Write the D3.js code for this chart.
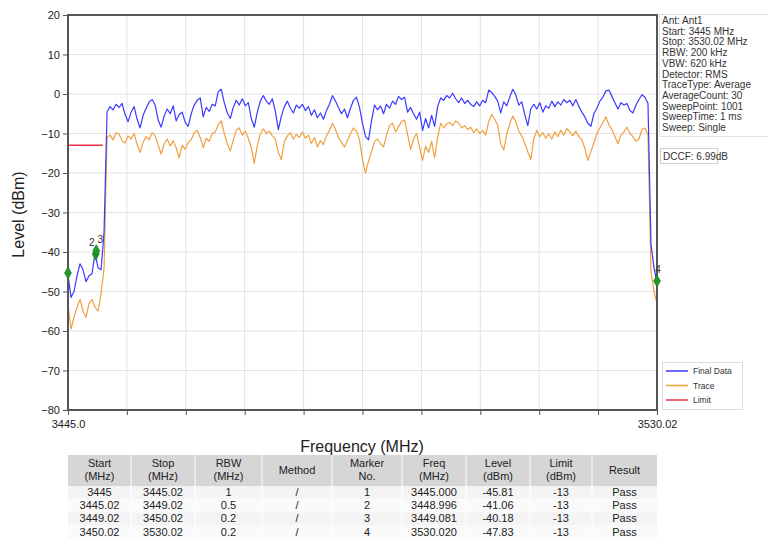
<!DOCTYPE html>
<html><head><meta charset="utf-8">
<script src="https://cdn.jsdelivr.net/npm/d3@7"></script>
<style>
html,body{margin:0;padding:0;background:#fff;}
svg{display:block;font-family:"Liberation Sans",Arial,sans-serif;}
</style></head>
<body><svg id="c" width="768" height="543"></svg>
<script>
// ---------------- data ----------------
const freqStart = 3445, freqStop = 3530.02;
const yTicks = [20, 10, 0, -10, -20, -30, -40, -50, -60, -70, -80];
const xTickLabels = ["3445.0", "", "", "", "", "", "", "", "", "", "3530.02"];

// Final Data (blue), evenly spaced sweep samples from 3445 to 3530.02 MHz
const finalData = [
 -45.8,-51.5,-50,-46,-43,-44.5,-47.5,-46,-45.5,-40.2,-44,-44.5,-35,
 -4.5,-3.2,-4.0,-2.6,-3.4,-2.4,-5.2,-7.0,-4.6,-3.2,-6.4,-8.6,-5.4,-3.6,-2.0,-1.4,
 -2.8,-6.6,-8.4,-5.6,-3.8,-5.0,-3.0,-6.8,-5.2,-4.6,-7.2,-8.2,-5.0,-2.8,-1.6,-1.0,
 -5.8,-3.4,-4.4,-2.6,-3.0,0.6,1.2,-2.2,-4.8,-6.2,-3.4,-1.6,-2.8,-1.2,-3.0,-2.2,
 -6.2,-8.4,-4.6,-1.8,-0.4,-1.8,-2.6,-1.2,-4.4,-9.0,-5.6,-3.2,-1.8,-3.6,-4.8,-2.8,
 -3.6,-2.6,-4.2,-3.2,-5.4,-4.0,-6.0,-4.8,-6.4,-4.2,-2.6,-0.4,-1.8,-3.4,-5.0,-3.8,
 -6.0,-3.6,-1.6,-0.8,-3.4,-7.4,-10.8,-11.6,-6.8,-2.8,-4.0,-3.0,-5.0,-2.6,-3.6,-1.8,
 -2.6,-0.6,-1.4,-0.8,-4.6,-3.4,-5.0,-6.4,-4.6,-9.2,-6.2,-8.6,-5.4,-8.2,-3.2,-1.0,
 -1.6,-0.4,-1.0,0.2,-1.2,-2.2,-1.0,-2.4,-1.6,-2.6,-3.2,-2.0,-3.0,-1.6,-2.2,1.0,
 0.4,-0.6,-1.8,-4.8,-2.0,-3.0,-0.8,1.2,-0.2,-2.8,-2.0,-5.2,-8.0,-3.8,-2.6,-3.8,
 -2.2,-4.6,-3.0,-3.6,-1.8,-3.2,-2.0,-2.8,-1.4,-2.2,-1.6,-3.0,-1.4,-3.2,-4.6,-5.8,
 -7.4,-8.2,-5.0,-3.6,-1.8,-0.8,0.8,1.0,-0.6,-2.2,-3.8,-2.2,-2.8,-2.4,-4.2,-4.8,
 -2.8,-1.4,-0.2,-0.8,-2.4,
 -38,-44,-47.83
];

// Trace (orange)
const traceData = [
 -53.5,-59.5,-56.5,-54,-52,-55,-56.5,-53,-52,-54,-55,-50.5,-44,
 -11.0,-10.4,-11.6,-9.8,-10.2,-11.8,-12.4,-10.6,-11.4,-10.0,-12.8,-14.8,-12.2,-10.8,-11.6,-9.8,
 -10.6,-13.0,-15.2,-12.6,-11.4,-13.2,-11.8,-13.6,-16.2,-13.0,-14.0,-12.2,-11.6,-9.8,-9.2,-11.0,
 -13.6,-11.2,-12.0,-10.0,-9.6,-7.8,-6.8,-10.0,-12.6,-14.4,-11.6,-9.2,-8.6,-10.4,-9.4,-11.2,
 -13.6,-17.6,-13.0,-10.2,-8.8,-10.0,-9.4,-10.6,-11.4,-14.8,-16.6,-12.0,-10.6,-9.8,-11.4,-10.2,
 -11.0,-9.6,-11.2,-10.4,-12.6,-11.0,-13.4,-11.8,-12.8,-10.6,-9.2,-7.4,-9.0,-11.0,-12.2,-13.4,
 -11.8,-10.0,-8.6,-9.4,-11.6,-16.6,-20.0,-17.0,-14.6,-12.0,-11.4,-12.6,-13.4,-10.4,-8.0,-7.4,
 -9.6,-8.2,-7.0,-6.6,-10.2,-14.0,-11.4,-10.0,-13.6,-16.8,-13.2,-14.8,-12.0,-16.2,-11.0,-7.4,
 -8.6,-7.6,-7.2,-8.0,-6.8,-7.4,-8.6,-8.0,-9.0,-8.4,-9.8,-8.8,-10.0,-9.2,-10.4,-7.0,
 -5.2,-6.4,-8.0,-12.6,-14.2,-10.2,-7.6,-5.6,-7.0,-9.4,-10.6,-12.4,-14.6,-16.6,-11.4,-9.2,
 -10.8,-9.8,-11.2,-10.0,-11.4,-9.6,-10.8,-9.2,-10.4,-8.8,-9.6,-10.6,-9.4,-10.8,-11.6,-13.8,
 -16.8,-14.6,-12.4,-10.0,-8.6,-7.2,-5.8,-7.8,-9.0,-10.8,-12.6,-10.4,-9.6,-8.4,-10.0,-10.8,
 -12.0,-11.4,-9.0,-8.6,-10.4,
 -45,-50,-53
];

const limitFreq = [3445, 3450.02];
const limitLevel = [-13, -13];

const markerNo = [1, 2, 3, 4];
const markerFreq = [3445.000, 3448.996, 3449.081, 3530.020];
const markerLevel = [-45.81, -41.06, -40.18, -47.83];
const markerLabelShown = [false, true, true, true];

const infoLines = ["Ant: Ant1", "Start: 3445 MHz", "Stop: 3530.02 MHz", "RBW: 200 kHz", "VBW: 620 kHz",
  "Detector: RMS", "TraceType: Average", "AverageCount: 30", "SweepPoint: 1001", "SweepTime: 1 ms", "Sweep: Single"];
const dccfText = "DCCF: 6.99dB";
const legendNames = ["Final Data", "Trace", "Limit"];
const colors = ["#3a3aff", "#f0a040", "#e8304a"];

const tableHeader = [["Start","(MHz)"],["Stop","(MHz)"],["RBW","(MHz)"],["Method"],["Marker","No."],["Freq","(MHz)"],["Level","(dBm)"],["Limit","(dBm)"],["Result"]];
const colStart = ["3445", "3445.02", "3449.02", "3450.02"];
const colStop = ["3445.02", "3449.02", "3450.02", "3530.02"];
const colRBW = ["1", "0.5", "0.2", "0.2"];
const colMethod = ["/", "/", "/", "/"];
const colMarker = ["1", "2", "3", "4"];
const colFreq = ["3445.000", "3448.996", "3449.081", "3530.020"];
const colLevel = ["-45.81", "-41.06", "-40.18", "-47.83"];
const colLimit = ["-13", "-13", "-13", "-13"];
const colResult = ["Pass", "Pass", "Pass", "Pass"];

// ---------------- drawing ----------------
const svg = d3.select("#c");
const L = 68, R = 657, T = 15, B = 410;
const x = d3.scaleLinear().domain([freqStart, freqStop]).range([L, R]);
const y = d3.scaleLinear().domain([-80, 20]).range([B, T]);
const fmtY = d => d < 0 ? "\u2212" + Math.abs(d) : String(d);
const xTickVals = xTickLabels.map((_, i) => freqStart + i * (freqStop - freqStart) / (xTickLabels.length - 1));

// grid
const g = svg.append("g");
g.selectAll("line.gy").data(yTicks).join("line")
  .attr("x1", L).attr("x2", R).attr("y1", d => y(d)).attr("y2", d => y(d))
  .attr("stroke", "#e2e2e2").attr("stroke-width", 1);
g.selectAll("line.gx").data(xTickVals).join("line")
  .attr("y1", T).attr("y2", B).attr("x1", d => x(d)).attr("x2", d => x(d))
  .attr("stroke", "#e2e2e2").attr("stroke-width", 1);

// clip
svg.append("clipPath").attr("id", "clip").append("rect")
  .attr("x", L).attr("y", T).attr("width", R - L).attr("height", B - T);

const mkLine = arr => {
  const step = (freqStop - freqStart) / (arr.length - 1);
  return d3.line().x((d, i) => x(freqStart + i * step)).y(d => y(d))(arr);
};
const plot = svg.append("g").attr("clip-path", "url(#clip)");
plot.append("path").attr("d", mkLine(traceData)).attr("fill", "none")
  .attr("stroke", colors[1]).attr("stroke-width", 1.2).attr("stroke-linejoin", "round");
plot.append("path").attr("d", mkLine(finalData)).attr("fill", "none")
  .attr("stroke", colors[0]).attr("stroke-width", 1.2).attr("stroke-linejoin", "round");
plot.append("path").attr("d", d3.line().x((d, i) => x(limitFreq[i])).y(d => y(d))(limitLevel))
  .attr("fill", "none").attr("stroke", colors[2]).attr("stroke-width", 1.5);

// frame
svg.append("rect").attr("x", L).attr("y", T).attr("width", R - L).attr("height", B - T)
  .attr("fill", "none").attr("stroke", "#555").attr("stroke-width", 2);

// markers
const mk = svg.append("g");
const labelDx = [0, -4, 4, 1];
markerNo.forEach((n, i) => {
  mk.append("path").attr("d", d3.symbol(d3.symbolDiamond, 42)())
    .attr("transform", `translate(${x(markerFreq[i])},${y(markerLevel[i]) - 2})`)
    .attr("fill", "#1e9a2a").attr("stroke", "#167020").attr("stroke-width", 0.6);
  if (markerLabelShown[i]) {
    mk.append("text").attr("x", x(markerFreq[i]) + labelDx[i]).attr("y", y(markerLevel[i]) - 10)
      .attr("text-anchor", "middle").attr("font-size", 10).attr("fill", "#333").text(n);
  }
});

// axes
const ya = svg.append("g").attr("transform", `translate(${L},0)`)
  .call(d3.axisLeft(y).tickValues(yTicks).tickSize(5).tickFormat(fmtY));
ya.select(".domain").remove();
ya.selectAll("line").attr("stroke", "#555");
ya.selectAll("text").attr("font-size", 11).attr("fill", "#222").attr("font-family", "Liberation Sans, Arial, sans-serif");

const xa = svg.append("g").attr("transform", `translate(0,${B})`)
  .call(d3.axisBottom(x).tickValues(xTickVals).tickSize(5).tickFormat((d, i) => xTickLabels[i]));
xa.select(".domain").remove();
xa.selectAll("line").attr("stroke", "#555");
xa.selectAll("text").attr("font-size", 11).attr("fill", "#222").attr("dy", "0.9em").attr("font-family", "Liberation Sans, Arial, sans-serif");

svg.append("text").attr("transform", `translate(24,${(T + B) / 2 + 2}) rotate(-90)`)
  .attr("text-anchor", "middle").attr("font-size", 16).attr("fill", "#222").text("Level (dBm)");
svg.append("text").attr("x", 362).attr("y", 452).attr("text-anchor", "middle")
  .attr("font-size", 16).attr("fill", "#222").text("Frequency (MHz)");

// info panel
svg.append("rect").attr("x", 659.5).attr("y", 14.5).attr("width", 110).attr("height", 122)
  .attr("fill", "none").attr("stroke", "#e0e0e0");
svg.append("g").selectAll("text").data(infoLines).join("text")
  .attr("x", 662).attr("y", (d, i) => 24 + i * 10.7)
  .attr("font-size", 10).attr("fill", "#333").text(d => d);
svg.append("rect").attr("x", 660.5).attr("y", 148.5).attr("width", 57).attr("height", 15)
  .attr("fill", "none").attr("stroke", "#cfcfcf");
svg.append("text").attr("x", 663).attr("y", 160).attr("font-size", 10).attr("fill", "#333").text(dccfText);

// legend
const lg = svg.append("g");
lg.append("rect").attr("x", 662.5).attr("y", 362.5).attr("width", 80).attr("height", 47)
  .attr("fill", "#fff").attr("stroke", "#dcdcdc");
legendNames.forEach((nm, i) => {
  const yy = 371 + i * 14.5;
  lg.append("line").attr("x1", 666).attr("x2", 688).attr("y1", yy).attr("y2", yy)
    .attr("stroke", colors[i]).attr("stroke-width", 1.5);
  lg.append("text").attr("x", 693).attr("y", yy + 3).attr("font-size", 8.5).attr("fill", "#333").text(nm);
});

// table
const colEdges = [68, 131, 195, 262, 332, 402, 466, 530, 592, 657];
const tableCols = [colStart, colStop, colRBW, colMethod, colMarker, colFreq, colLevel, colLimit, colResult];
const tb = svg.append("g").attr("font-size", 11).attr("fill", "#222");
tb.append("rect").attr("x", 68).attr("y", 455).attr("width", 589).attr("height", 31).attr("fill", "#d6d6d6");
for (let r = 0; r < 4; r++) {
  tb.append("rect").attr("x", 68).attr("y", 486 + r * 13.2).attr("width", 589).attr("height", 13.2)
    .attr("fill", r % 2 ? "#fafafa" : "#f4f4f4");
}
colEdges.slice(1, -1).forEach(e => {
  tb.append("line").attr("x1", e).attr("x2", e).attr("y1", 455).attr("y2", 539).attr("stroke", "#fff").attr("stroke-width", 1);
});
tableHeader.forEach((h, c) => {
  const cx = (colEdges[c] + colEdges[c + 1]) / 2;
  if (h.length === 2) {
    tb.append("text").attr("x", cx).attr("y", 467).attr("text-anchor", "middle").text(h[0]);
    tb.append("text").attr("x", cx).attr("y", 480).attr("text-anchor", "middle").text(h[1]);
  } else {
    tb.append("text").attr("x", cx).attr("y", 474).attr("text-anchor", "middle").text(h[0]);
  }
  tableCols[c].forEach((v, r) => {
    tb.append("text").attr("x", cx).attr("y", 496 + r * 13.2).attr("text-anchor", "middle").text(v);
  });
});
</script></body></html>
